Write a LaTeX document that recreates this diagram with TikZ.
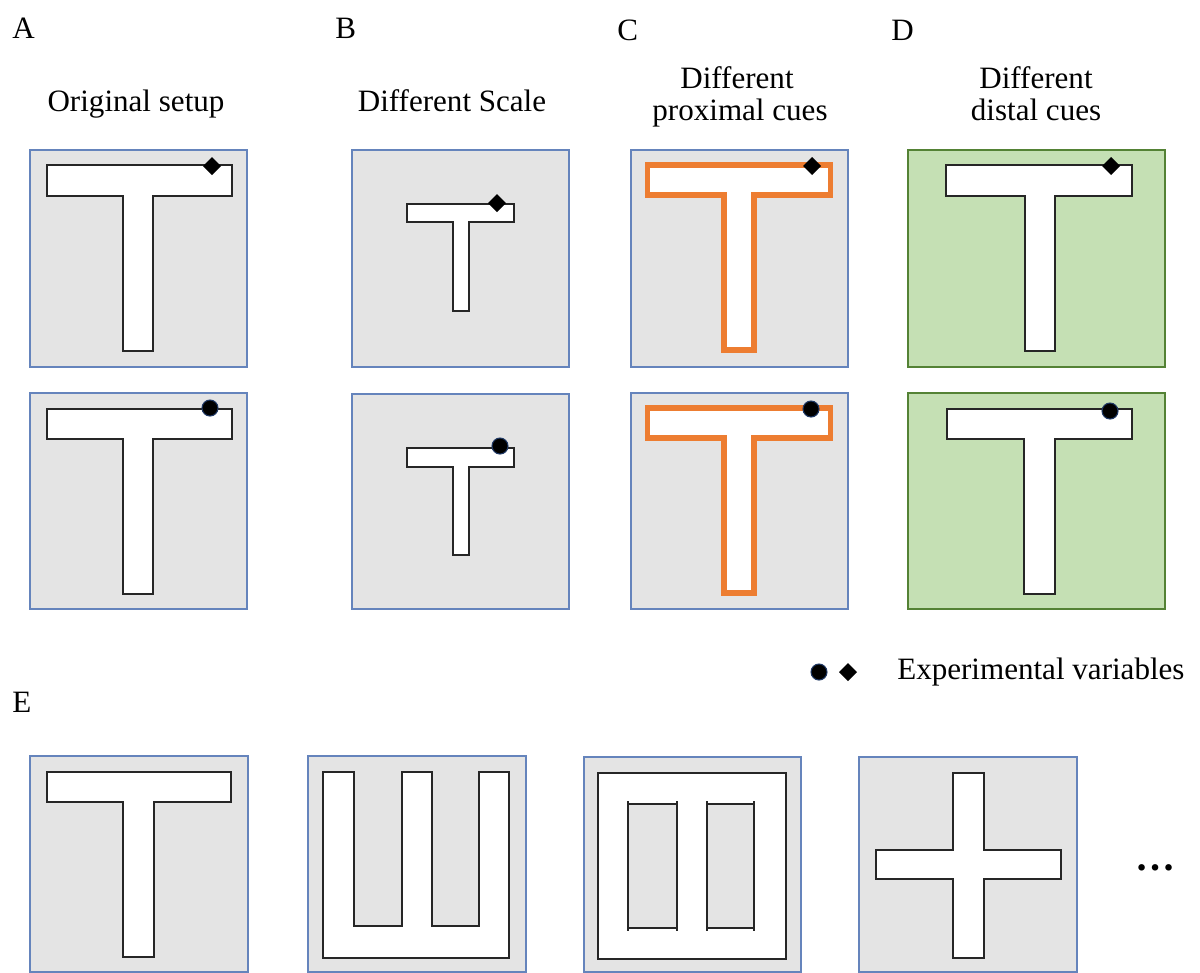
\documentclass[tikz,border=0pt]{standalone}
\usepackage{fontspec}
\setmainfont{Liberation Serif}
\definecolor{arenagray}{HTML}{E4E4E4}
\definecolor{frameblue}{HTML}{6584BC}
\definecolor{cuegreen}{HTML}{C5E0B4}
\definecolor{cuegreenline}{HTML}{548235}
\definecolor{cueorange}{HTML}{ED7D31}
\definecolor{markerblue}{HTML}{1F3864}

% T maze: style, bar left, bar right, bar top, bar bottom, stem left, stem right, stem bottom
\newcommand\tmaze[8]{%
  \draw[#1] (#2,#4) -- (#3,#4) -- (#3,#5) -- (#7,#5) -- (#7,#8) -- (#6,#8)
    -- (#6,#5) -- (#2,#5) -- cycle;}
% goal markers
\newcommand\goaldiamond[2]{\fill[black] (#1,#2-9) -- (#1+9,#2) -- (#1,#2+9) -- (#1-9,#2) -- cycle;}
\newcommand\goaldot[2]{\filldraw[fill=black,draw=markerblue,line width=0.8pt] (#1,#2) circle (8);}

\begin{document}
\begin{tikzpicture}[x=0.75pt,y=-0.75pt,
  arena/.style={fill=arenagray,draw=frameblue,line width=0.9pt},
  greenarena/.style={fill=cuegreen,draw=cuegreenline,line width=1.9pt},
  maze/.style={fill=white,draw=black!85,line width=1.1pt,line join=miter},
  orangemaze/.style={fill=white,draw=cueorange,line width=3.8pt,line join=miter},
  wall/.style={draw=black!85,line width=1.1pt},
  lbl/.style={inner sep=0pt,font=\fontsize{23.3}{28}\selectfont}]
\useasboundingbox (0,0) rectangle (1200,972);

% panel letters
\node[lbl,anchor=base west] (la) at (12,38) {A};
\node[lbl,anchor=base west] (lb) at (335,38) {B};
\node[lbl,anchor=base west] (lc) at (617,40) {C};
\node[lbl,anchor=base west] (ld) at (891,40) {D};
\node[lbl,anchor=base west] (le) at (12,712) {E};

% column titles
\node[lbl,anchor=base] (ta) at (136,111) {Original setup};
\node[lbl,anchor=base] (tb) at (452,111) {Different Scale};
\node[lbl,anchor=base] (tc1) at (737,88) {Different};
\node[lbl,anchor=base] (tc2) at (740,120) {proximal cues};
\node[lbl,anchor=base] (td1) at (1036,88) {Different};
\node[lbl,anchor=base] (td2) at (1036,120) {distal cues};

% A: original setup
\draw[arena] (30,150) rectangle (247,367);
\tmaze{maze}{47}{232}{165}{196}{123}{153}{351}
\goaldiamond{212}{166}
\draw[arena] (30,393) rectangle (247,609);
\tmaze{maze}{47}{232}{409}{439}{123}{153}{594}
\goaldot{210}{408}

% B: different scale
\draw[arena] (352,150) rectangle (569,367);
\tmaze{maze}{407}{514}{204}{222}{453}{469}{311}
\goaldiamond{497}{203}
\draw[arena] (352,394) rectangle (569,609);
\tmaze{maze}{407}{514}{448}{467}{453}{469}{555}
\goaldot{500}{446}

% C: different proximal cues
\draw[arena] (631,150) rectangle (848,367);
\tmaze{orangemaze}{647.5}{830.5}{165}{195}{724}{754}{350}
\goaldiamond{812}{166}
\draw[arena] (631,393) rectangle (848,609);
\tmaze{orangemaze}{647.5}{830.5}{408}{438}{724}{754}{593}
\goaldot{811}{409}

% D: different distal cues
\draw[greenarena] (908,150) rectangle (1165,367);
\tmaze{maze}{946}{1132}{165}{196}{1025}{1055}{351}
\goaldiamond{1111}{166}
\draw[greenarena] (908,393) rectangle (1165,609);
\tmaze{maze}{947}{1132}{409}{439}{1024}{1055}{594}
\goaldot{1110}{411}

% legend
\goaldot{819}{672}
\goaldiamond{848}{672}
\node[lbl,anchor=base west] (legend) at (897,679) {Experimental variables};

% E: other maze layouts
\draw[arena] (30,756) rectangle (248,972);
\tmaze{maze}{47}{231}{772}{802}{123}{154}{957}

\draw[arena] (308,756) rectangle (526,972);
\draw[maze] (323,772) -- (354,772) -- (354,926) -- (402,926) -- (402,772)
  -- (432,772) -- (432,926) -- (479,926) -- (479,772) -- (509,772)
  -- (509,958) -- (323,958) -- cycle;

\draw[arena] (584,757) rectangle (801,972);
\draw[maze] (598,773) rectangle (786,959);
\fill[arenagray] (628,804) rectangle (677,928);
\fill[arenagray] (707,804) rectangle (754,928);
\draw[wall] (628,801) -- (628,931) (677,801) -- (677,931)
  (628,804) -- (677,804) (628,928) -- (677,928);
\draw[wall] (707,801) -- (707,931) (754,801) -- (754,931)
  (707,804) -- (754,804) (707,928) -- (754,928);

\draw[arena] (859,757) rectangle (1077,972);
\draw[maze] (953,773) -- (984,773) -- (984,850) -- (1061,850) -- (1061,879)
  -- (984,879) -- (984,958) -- (953,958) -- (953,879) -- (876,879)
  -- (876,850) -- (953,850) -- cycle;

\node[inner sep=0pt,font=\fontsize{30}{30}\selectfont\bfseries] (more) at (1155,868) {…};
\end{tikzpicture}
\end{document}
